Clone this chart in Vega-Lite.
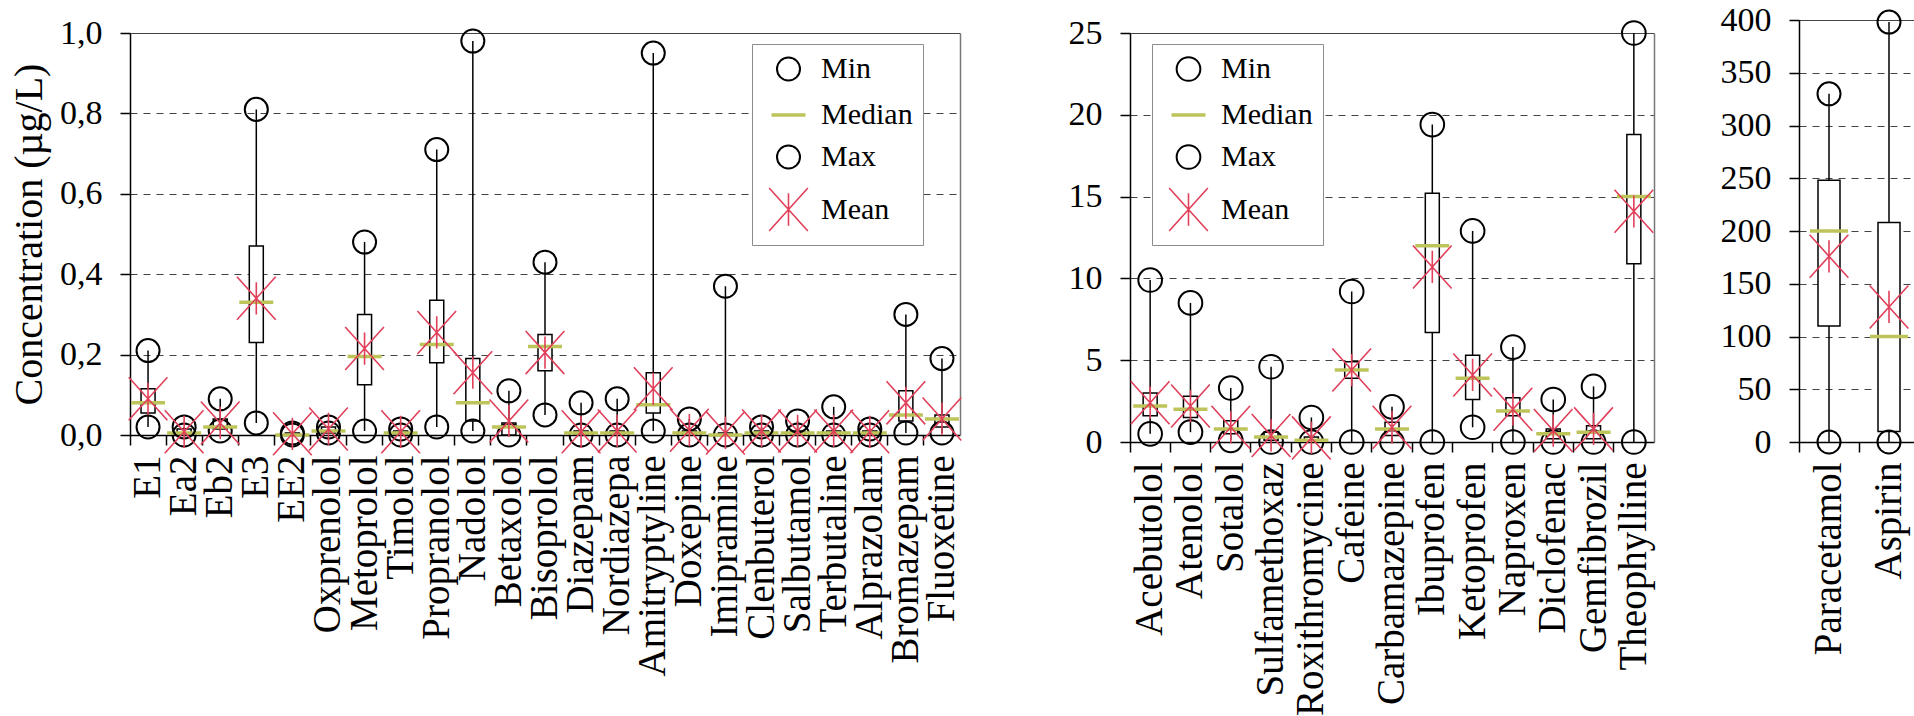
{
  "$schema": "https://vega.github.io/schema/vega-lite/v6.json",
  "padding": {"left": 9, "top": 3, "right": 0, "bottom": 0},
  "background": "white",
  "data": {"values": [
    {"p": "A", "compound": "E1", "Min": 0.02, "Q1": 0.055, "Median": 0.08, "Q3": 0.115, "Max": 0.21, "Mean": 0.09},
    {"p": "A", "compound": "Ea2", "Min": 0.0, "Q1": 0.0, "Median": 0.005, "Q3": 0.015, "Max": 0.02, "Mean": 0.008},
    {"p": "A", "compound": "Eb2", "Min": 0.01, "Q1": 0.015, "Median": 0.02, "Q3": 0.04, "Max": 0.09, "Mean": 0.03},
    {"p": "A", "compound": "E3", "Min": 0.03, "Q1": 0.23, "Median": 0.33, "Q3": 0.47, "Max": 0.81, "Mean": 0.34},
    {"p": "A", "compound": "EE2", "Min": 0.0, "Q1": 0.0, "Median": 0.0, "Q3": 0.005, "Max": 0.005, "Mean": 0.003},
    {"p": "A", "compound": "Oxprenolol", "Min": 0.005, "Q1": 0.005, "Median": 0.01, "Q3": 0.02, "Max": 0.02, "Mean": 0.015},
    {"p": "A", "compound": "Metoprolol", "Min": 0.01, "Q1": 0.125, "Median": 0.195, "Q3": 0.3, "Max": 0.48, "Mean": 0.215},
    {"p": "A", "compound": "Timolol", "Min": 0.0, "Q1": 0.0, "Median": 0.005, "Q3": 0.01, "Max": 0.015, "Mean": 0.008},
    {"p": "A", "compound": "Propranolol", "Min": 0.02, "Q1": 0.18, "Median": 0.225, "Q3": 0.335, "Max": 0.71, "Mean": 0.255},
    {"p": "A", "compound": "Nadolol", "Min": 0.01, "Q1": 0.035, "Median": 0.08, "Q3": 0.19, "Max": 0.98, "Mean": 0.155},
    {"p": "A", "compound": "Betaxolol", "Min": 0.0, "Q1": 0.0, "Median": 0.02, "Q3": 0.03, "Max": 0.11, "Mean": 0.035},
    {"p": "A", "compound": "Bisoprolol", "Min": 0.05, "Q1": 0.16, "Median": 0.22, "Q3": 0.25, "Max": 0.43, "Mean": 0.205},
    {"p": "A", "compound": "Diazepam", "Min": 0.0, "Q1": 0.0, "Median": 0.005, "Q3": 0.01, "Max": 0.08, "Mean": 0.008},
    {"p": "A", "compound": "Nordiazepa", "Min": 0.0, "Q1": 0.0, "Median": 0.005, "Q3": 0.01, "Max": 0.09, "Mean": 0.01},
    {"p": "A", "compound": "Amitryptyline", "Min": 0.01, "Q1": 0.055, "Median": 0.075, "Q3": 0.155, "Max": 0.95, "Mean": 0.115},
    {"p": "A", "compound": "Doxepine", "Min": 0.0, "Q1": 0.0, "Median": 0.005, "Q3": 0.01, "Max": 0.04, "Mean": 0.012},
    {"p": "A", "compound": "Imipramine", "Min": 0.0, "Q1": 0.0, "Median": 0.0, "Q3": 0.005, "Max": 0.37, "Mean": 0.005},
    {"p": "A", "compound": "Clenbuterol", "Min": 0.0, "Q1": 0.0, "Median": 0.005, "Q3": 0.01, "Max": 0.02, "Mean": 0.01},
    {"p": "A", "compound": "Salbutamol", "Min": 0.0, "Q1": 0.0, "Median": 0.005, "Q3": 0.01, "Max": 0.035, "Mean": 0.01},
    {"p": "A", "compound": "Terbutaline", "Min": 0.0, "Q1": 0.0, "Median": 0.005, "Q3": 0.01, "Max": 0.07, "Mean": 0.01},
    {"p": "A", "compound": "Alprazolam", "Min": 0.0, "Q1": 0.0, "Median": 0.005, "Q3": 0.01, "Max": 0.015, "Mean": 0.008},
    {"p": "A", "compound": "Bromazepam", "Min": 0.005, "Q1": 0.035, "Median": 0.05, "Q3": 0.11, "Max": 0.3, "Mean": 0.08},
    {"p": "A", "compound": "Fluoxetine", "Min": 0.005, "Q1": 0.02, "Median": 0.04, "Q3": 0.05, "Max": 0.19, "Mean": 0.04},
    {"p": "B", "compound": "Acebutolol", "Min": 0.5, "Q1": 1.6, "Median": 2.2, "Q3": 3.0, "Max": 9.9, "Mean": 2.4},
    {"p": "B", "compound": "Atenolol", "Min": 0.6, "Q1": 1.5, "Median": 2.0, "Q3": 2.8, "Max": 8.5, "Mean": 2.2},
    {"p": "B", "compound": "Sotalol", "Min": 0.1, "Q1": 0.5, "Median": 0.8, "Q3": 1.3, "Max": 3.3, "Mean": 0.9},
    {"p": "B", "compound": "Sulfamethoxaz", "Min": 0.0, "Q1": 0.1, "Median": 0.3, "Q3": 0.6, "Max": 4.6, "Mean": 0.4},
    {"p": "B", "compound": "Roxithromycine", "Min": 0.0, "Q1": 0.05, "Median": 0.1, "Q3": 0.3, "Max": 1.5, "Mean": 0.25},
    {"p": "B", "compound": "Cafeine", "Min": 0.0, "Q1": 3.9, "Median": 4.4, "Q3": 4.9, "Max": 9.2, "Mean": 4.4},
    {"p": "B", "compound": "Carbamazepine", "Min": 0.0, "Q1": 0.4, "Median": 0.8, "Q3": 1.2, "Max": 2.15, "Mean": 0.9},
    {"p": "B", "compound": "Ibuprofen", "Min": 0.0, "Q1": 6.7, "Median": 12.0, "Q3": 15.2, "Max": 19.4, "Mean": 10.7},
    {"p": "B", "compound": "Ketoprofen", "Min": 0.9, "Q1": 2.6, "Median": 3.9, "Q3": 5.3, "Max": 12.9, "Mean": 4.1},
    {"p": "B", "compound": "Naproxen", "Min": 0.0, "Q1": 1.6, "Median": 1.9, "Q3": 2.7, "Max": 5.8, "Mean": 2.0},
    {"p": "B", "compound": "Diclofenac", "Min": 0.0, "Q1": 0.2, "Median": 0.5, "Q3": 0.8, "Max": 2.6, "Mean": 0.7},
    {"p": "B", "compound": "Gemfibrozil", "Min": 0.0, "Q1": 0.2, "Median": 0.6, "Q3": 1.0, "Max": 3.4, "Mean": 0.8},
    {"p": "B", "compound": "Theophylline", "Min": 0.0, "Q1": 10.9, "Median": 15.0, "Q3": 18.8, "Max": 25.0, "Mean": 14.1},
    {"p": "C", "compound": "Paracetamol", "Min": 0, "Q1": 110, "Median": 200, "Q3": 248, "Max": 330, "Mean": 176},
    {"p": "C", "compound": "Aspirin", "Min": 0, "Q1": 10, "Median": 100, "Q3": 208, "Max": 398, "Mean": 128}
  ]},
  "spacing": 102,
  "resolve": {"scale": {"color": "independent", "shape": "independent", "size": "independent", "strokeWidth": "independent"}, "legend": {"color": "independent", "shape": "independent"}},
  "hconcat": [
    {
      "width": 830,
      "height": 415,
      "transform": [{"filter": "datum.p == 'A'"}],
      "encoding": {
        "x": {"field": "compound", "type": "nominal", "sort": null, "scale": {"paddingInner": 0, "paddingOuter": 0}}
      },
      "layer": [
        {
          "mark": {"type": "rule", "color": "black", "strokeWidth": 1.5},
          "encoding": {
            "y": {"field": "Min", "type": "quantitative", "scale": {"domain": [0, 1], "range": [415, 13], "nice": false},
              "axis": {"values": [0, 0.2, 0.4, 0.6, 0.8, 1], "labelExpr": "replace(format(datum.value, '.1f'), '.', ',')",
                "title": "Concentration (µg/L)",
                "gridDash": {"condition": {"test": "datum.value == 1", "value": []}, "value": [7, 6]}}},
            "y2": {"field": "Max"}
          }
        },
        {
          "mark": {"type": "bar", "fill": "white", "stroke": "black", "strokeWidth": 1.5, "size": 14},
          "encoding": {
            "y": {"field": "Q1", "type": "quantitative", "axis": {"orient": "right", "labels": false, "ticks": false, "grid": false, "title": null, "domainColor": "#777", "domainWidth": 1.5}},
            "y2": {"field": "Q3"}
          }
        },
        {
          "transform": [{"fold": ["Min", "Median", "Max", "Mean"], "as": ["stat", "val"]}],
          "mark": {"type": "point", "filled": false, "opacity": 1},
          "encoding": {
            "y": {"field": "val", "type": "quantitative", "axis": null},
            "shape": {"field": "stat", "type": "nominal", "scale": {"domain": ["Min", "Median", "Max", "Mean"], "range": ["circle", "stroke", "circle", "M-0.9,-1L0.9,1M0.9,-1L-0.9,1M0,-0.75L0,0.75"]},
              "legend": {"title": null, "orient": "none", "legendX": 622, "legendY": 24}},
            "color": {"field": "stat", "type": "nominal", "scale": {"domain": ["Min", "Median", "Max", "Mean"], "range": ["black", "#bcc45a", "black", "#e0405a"]},
              "legend": {"title": null, "orient": "none", "legendX": 622, "legendY": 24}},
            "size": {"field": "stat", "type": "nominal", "scale": {"type": "ordinal", "domain": ["Min", "Median", "Max", "Mean"], "range": [530, 1156, 530, 1850]}, "legend": null},
            "strokeWidth": {"field": "stat", "type": "nominal", "scale": {"type": "ordinal", "domain": ["Min", "Median", "Max", "Mean"], "range": [2, 3.5, 2, 1.6]}, "legend": null}
          }
        }
      ],
      "resolve": {"axis": {"y": "independent"}}
    },
    {
      "spacing": 62,
      "resolve": {"scale": {"color": "independent", "shape": "independent", "size": "independent", "strokeWidth": "independent"}, "legend": {"color": "independent", "shape": "independent"}},
      "hconcat": [
        {
          "width": 524,
          "height": 422,
          "transform": [{"filter": "datum.p == 'B'"}],
          "encoding": {
            "x": {"field": "compound", "type": "nominal", "sort": null, "scale": {"paddingInner": 0, "paddingOuter": 0}}
          },
          "layer": [
            {
              "mark": {"type": "rule", "color": "black", "strokeWidth": 1.5},
              "encoding": {
                "y": {"field": "Min", "type": "quantitative", "scale": {"domain": [0, 25], "range": [422, 13], "nice": false},
                  "axis": {"values": [0, 5, 10, 15, 20, 25], "title": null,
                    "gridDash": {"condition": {"test": "datum.value == 25", "value": []}, "value": [7, 6]}}},
                "y2": {"field": "Max"}
              }
            },
            {
              "mark": {"type": "bar", "fill": "white", "stroke": "black", "strokeWidth": 1.5, "size": 14},
              "encoding": {
                "y": {"field": "Q1", "type": "quantitative", "axis": {"orient": "right", "labels": false, "ticks": false, "grid": false, "title": null, "domainColor": "#777", "domainWidth": 1.5}},
                "y2": {"field": "Q3"}
              }
            },
            {
              "transform": [{"fold": ["Min", "Median", "Max", "Mean"], "as": ["stat", "val"]}],
              "mark": {"type": "point", "filled": false, "opacity": 1},
              "encoding": {
                "y": {"field": "val", "type": "quantitative", "axis": null},
                "shape": {"field": "stat", "type": "nominal", "scale": {"domain": ["Min", "Median", "Max", "Mean"], "range": ["circle", "stroke", "circle", "M-0.9,-1L0.9,1M0.9,-1L-0.9,1M0,-0.75L0,0.75"]},
                  "legend": {"title": null, "orient": "none", "legendX": 22, "legendY": 24}},
                "color": {"field": "stat", "type": "nominal", "scale": {"domain": ["Min", "Median", "Max", "Mean"], "range": ["black", "#bcc45a", "black", "#e0405a"]},
                  "legend": {"title": null, "orient": "none", "legendX": 22, "legendY": 24}},
                "size": {"field": "stat", "type": "nominal", "scale": {"type": "ordinal", "domain": ["Min", "Median", "Max", "Mean"], "range": [560, 1156, 560, 1850]}, "legend": null},
                "strokeWidth": {"field": "stat", "type": "nominal", "scale": {"type": "ordinal", "domain": ["Min", "Median", "Max", "Mean"], "range": [2, 3.5, 2, 1.6]}, "legend": null}
              }
            }
          ],
          "resolve": {"axis": {"y": "independent"}}
        },
        {
          "width": 120,
          "height": 422,
          "transform": [{"filter": "datum.p == 'C'"}],
          "encoding": {
            "x": {"field": "compound", "type": "nominal", "sort": null, "scale": {"paddingInner": 0, "paddingOuter": 0}}
          },
          "layer": [
            {
              "mark": {"type": "rule", "color": "black", "strokeWidth": 1.5},
              "encoding": {
                "y": {"field": "Min", "type": "quantitative", "scale": {"domain": [0, 400], "range": [422, 0], "nice": false},
                  "axis": {"values": [0, 50, 100, 150, 200, 250, 300, 350, 400], "title": null,
                    "gridDash": {"condition": {"test": "datum.value == 400", "value": []}, "value": [7, 6]}}},
                "y2": {"field": "Max"}
              }
            },
            {
              "mark": {"type": "bar", "fill": "white", "stroke": "black", "strokeWidth": 1.5, "size": 22},
              "encoding": {
                "y": {"field": "Q1", "type": "quantitative", "axis": {"orient": "right", "labels": false, "ticks": false, "grid": false, "title": null, "domainColor": "#777", "domainWidth": 1.5}},
                "y2": {"field": "Q3"}
              }
            },
            {
              "transform": [{"fold": ["Min", "Median", "Max", "Mean"], "as": ["stat", "val"]}],
              "mark": {"type": "point", "filled": false, "opacity": 1},
              "encoding": {
                "y": {"field": "val", "type": "quantitative", "axis": null},
                "shape": {"field": "stat", "type": "nominal", "scale": {"domain": ["Min", "Median", "Max", "Mean"], "range": ["circle", "stroke", "circle", "M-0.9,-1L0.9,1M0.9,-1L-0.9,1M0,-0.75L0,0.75"]}, "legend": null},
                "color": {"field": "stat", "type": "nominal", "scale": {"domain": ["Min", "Median", "Max", "Mean"], "range": ["black", "#bcc45a", "black", "#e0405a"]}, "legend": null},
                "size": {"field": "stat", "type": "nominal", "scale": {"type": "ordinal", "domain": ["Min", "Median", "Max", "Mean"], "range": [530, 1444, 530, 1850]}, "legend": null},
                "strokeWidth": {"field": "stat", "type": "nominal", "scale": {"type": "ordinal", "domain": ["Min", "Median", "Max", "Mean"], "range": [2, 3.5, 2, 1.6]}, "legend": null}
              }
            }
          ],
          "resolve": {"axis": {"y": "independent"}}
        }
      ]
    }
  ],
  "config": {
    "font": "Liberation Serif, DejaVu Serif, serif",
    "view": {"stroke": null},
    "axis": {"labelFont": "Liberation Serif, DejaVu Serif, serif", "titleFont": "Liberation Serif, DejaVu Serif, serif", "labelColor": "black", "titleColor": "black", "tickColor": "black", "domainColor": "black", "domainWidth": 1.5, "tickWidth": 1.5, "tickSize": 10},
    "axisX": {"title": null, "labelAngle": -90, "labelFontSize": 39, "labelPadding": 10, "bandPosition": 0, "grid": false, "labelLimit": 400},
    "axisY": {"labelFontSize": 34, "labelPadding": 18, "titleFontSize": 40, "titleFontWeight": "normal", "titlePadding": 10, "grid": true, "gridColor": "#444", "gridWidth": 1.2},
    "legend": {"labelFont": "Liberation Serif, DejaVu Serif, serif", "labelFontSize": 30, "labelColor": "black", "symbolSize": 480, "symbolStrokeWidth": 2, "rowPadding": 11, "padding": 10, "symbolOffset": 4, "labelOffset": 10, "strokeColor": "#8c8c8c", "fillColor": "white", "labelLimit": 300}
  }
}
